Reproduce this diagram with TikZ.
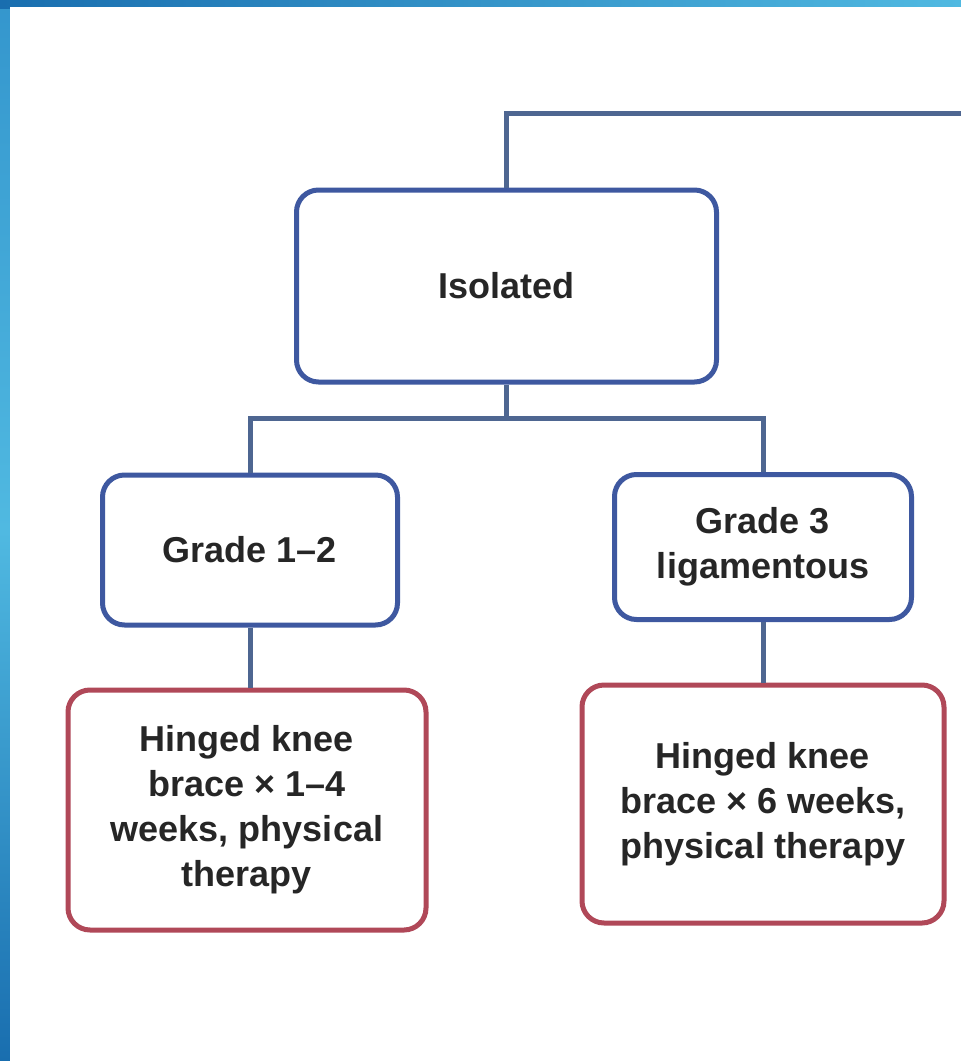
\documentclass[tikz,border=0pt]{standalone}
\usepackage{fontspec}
\setmainfont{Liberation Sans}
\usetikzlibrary{positioning}
\definecolor{boxblue}{RGB}{62,88,160}
\definecolor{lineblue}{RGB}{78,102,145}
\definecolor{treatred}{RGB}{176,72,88}
\definecolor{textgray}{RGB}{38,38,38}
\definecolor{slidetop}{RGB}{52,150,205}
\definecolor{slidemid}{RGB}{80,185,225}
\definecolor{slidelow}{RGB}{25,110,175}
\begin{document}
\begin{tikzpicture}[
    x=1pt, y=-1pt,
    box/.style={draw=boxblue, line width=5pt, rounded corners=22pt, fill=white, align=center,
        text=textgray, font=\fontsize{36}{45}\selectfont\bfseries},
    treat/.style={box, draw=treatred},
    link/.style={draw=lineblue, line width=5pt}
]
    \useasboundingbox (0,0) rectangle (961,1061);
    % slide background
    \shade[top color=slidetop, bottom color=slidelow, middle color=slidemid] (0,0) rectangle (961,1061);
    \shade[left color=slidelow, right color=slidemid] (0,0) rectangle (961,8);
    \fill[white] (10,7) rectangle (961,1061);

    \node[box, minimum width=420pt, minimum height=192pt] (isolated) at (506.5,286) {Isolated};
    \node[box, minimum width=295pt, minimum height=150pt] (gradeA) at (250,550) {Grade 1–2};
    \node[box, minimum width=297pt, minimum height=145pt] (gradeB) at (763,547) {Grade 3\\ligamentous};
    \node[treat, minimum width=358pt, minimum height=240pt] (braceA) at (247,810)
        {Hinged knee\\brace × 1–4\\weeks, physical\\therapy};
    \node[treat, minimum width=362pt, minimum height=238pt] (braceB) at (763,804)
        {Hinged knee\\brace × 6 weeks,\\physical therapy};

    \coordinate (topright) at (961,113);
    \coordinate (split) at (506.5,418);

    \draw[link] (isolated.north) |- (topright);
    \draw[link] (isolated.south) -- (split);
    \draw[link] (gradeA.north) |- (split) -| (gradeB.north);
    \draw[link] (gradeA.south) -- (gradeA.south |- braceA.north);
    \draw[link] (gradeB.south) -- (gradeB.south |- braceB.north);
\end{tikzpicture}
\end{document}
